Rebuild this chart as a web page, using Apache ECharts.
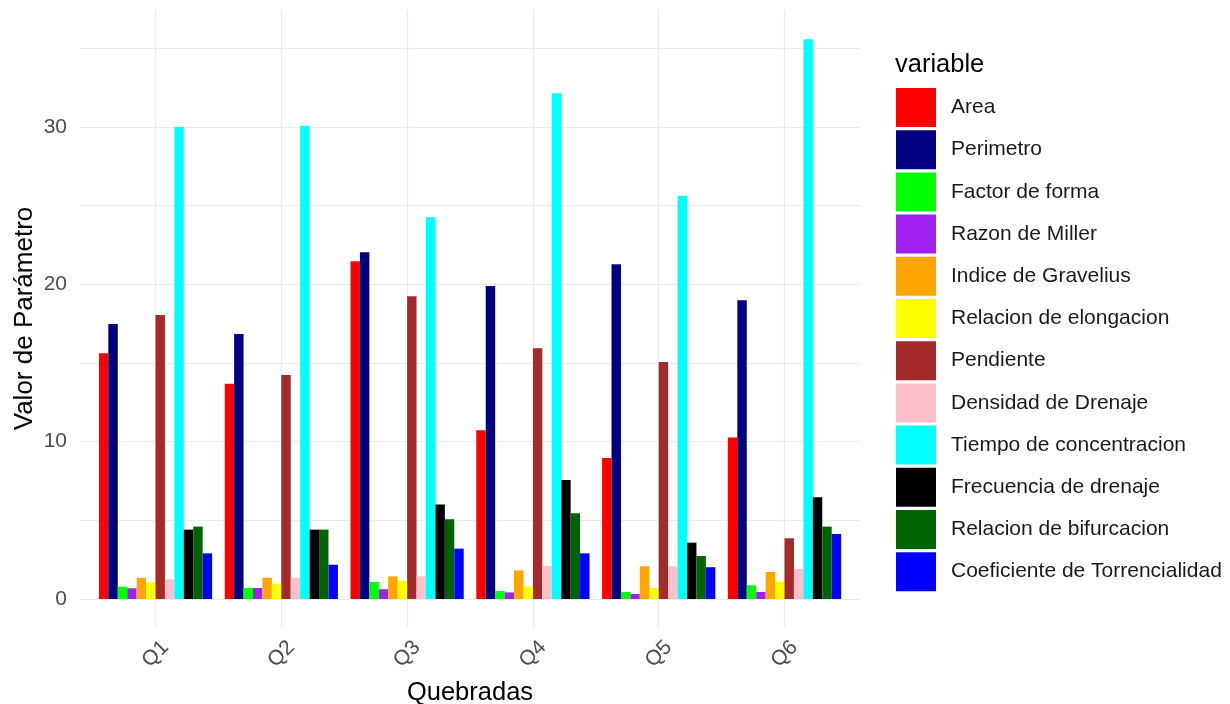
<!DOCTYPE html>
<html>
<head>
<meta charset="utf-8">
<script src="https://cdn.jsdelivr.net/npm/echarts@6/dist/echarts.min.js"></script>
<style>html,body{margin:0;padding:0;background:#fff}#c{width:1230px;height:704px}</style>
</head>
<body>
<div id="c"></div>
<script>
const categories = ['Q1','Q2','Q3','Q4','Q5','Q6'];
const yTickValues = [0, 10, 20, 30];
const yGridValues = [0, 5, 10, 15, 20, 25, 30, 35];

const area          = [15.62, 13.69, 21.47, 10.72, 8.96, 10.26];
const perimetro     = [17.48, 16.84, 22.04, 19.90, 21.28, 18.99];
const factorForma   = [0.78, 0.70, 1.08, 0.51, 0.45, 0.87];
const razonMiller   = [0.68, 0.70, 0.62, 0.42, 0.32, 0.45];
const gravelius     = [1.35, 1.35, 1.44, 1.82, 2.08, 1.72];
const elongacion    = [1.06, 0.97, 1.16, 0.78, 0.70, 1.10];
const pendiente     = [18.05, 14.24, 19.24, 15.94, 15.07, 3.86];
const densidad      = [1.25, 1.35, 1.44, 2.10, 2.08, 1.91];
const tiempo        = [30.00, 30.09, 24.27, 32.15, 25.64, 35.58];
const frecuencia    = [4.41, 4.41, 6.00, 7.57, 3.58, 6.47];
const bifurcacion   = [4.60, 4.41, 5.07, 5.45, 2.73, 4.60];
const torrencialidad= [2.90, 2.18, 3.20, 2.90, 2.02, 4.13];

const seriesNames = ['Area','Perimetro','Factor de forma','Razon de Miller','Indice de Gravelius',
  'Relacion de elongacion','Pendiente','Densidad de Drenaje','Tiempo de concentracion',
  'Frecuencia de drenaje','Relacion de bifurcacion','Coeficiente de Torrencialidad'];
const seriesData = [area, perimetro, factorForma, razonMiller, gravelius, elongacion,
  pendiente, densidad, tiempo, frecuencia, bifurcacion, torrencialidad];
const colors = ['#ff0000','#000080','#00ff00','#a020f0','#ffa500','#ffff00',
  '#a52a2a','#ffc0cb','#00ffff','#000000','#006400','#0000ff'];

const FONT = 'Liberation Sans, Arial, sans-serif';
const Y_MIN = -1.78, Y_MAX = 37.44;
const GRID_COLOR = '#ebebeb';
const chart = echarts.init(document.getElementById('c'));
chart.setOption({
  animation: false,
  backgroundColor: '#ffffff',
  color: colors,
  title: {
    text: 'variable', left: 895, top: 52, padding: 0,
    textStyle: { fontFamily: FONT, fontSize: 25.5, fontWeight: 'normal', color: '#000' }
  },
  legend: {
    orient: 'vertical', left: 896, top: 88, padding: 0,
    itemWidth: 40, itemHeight: 39, itemGap: 3.2,
    icon: 'rect',
    data: seriesNames,
    textStyle: { fontFamily: FONT, fontSize: 21, color: '#1a1a1a', padding: [0,0,0,10] }
  },
  grid: [
    { left: 80, right: 370, top: 10, bottom: 77, outerBoundsMode: 'none', containLabel: false },
    { left: 92.6, right: 382.6, top: 10, bottom: 77, outerBoundsMode: 'none', containLabel: false }
  ],
  xAxis: [
    { type: 'value', gridIndex: 0, show: false, min: 0, max: 1 },
    {
      type: 'category', gridIndex: 1, data: categories,
      name: 'Quebradas', nameLocation: 'middle', nameGap: 53, nameMoveOverlap: false,
      nameTextStyle: { fontFamily: FONT, fontSize: 25.5, color: '#000' },
      axisLine: { show: false },
      axisTick: { show: false, alignWithLabel: true },
      splitLine: { show: true, alignWithLabel: true, lineStyle: { color: GRID_COLOR, width: 1.2 } },
      axisLabel: { rotate: 45, align: 'center', verticalAlign: 'middle', margin: 27,
        fontFamily: FONT, fontSize: 21, color: '#4d4d4d' }
    }
  ],
  yAxis: [
    {
      type: 'value', gridIndex: 0, min: Y_MIN, max: Y_MAX,
      name: 'Valor de Parámetro', nameLocation: 'middle', nameGap: 42, nameRotate: 90,
      nameMoveOverlap: false,
      nameTextStyle: { fontFamily: FONT, fontSize: 26, color: '#000' },
      axisLine: { show: false },
      axisTick: { show: false, customValues: yGridValues },
      axisLabel: { customValues: yTickValues, margin: 13, fontFamily: FONT, fontSize: 21, color: '#4d4d4d' },
      splitLine: { show: true, lineStyle: { color: GRID_COLOR, width: 1.2 } }
    },
    {
      type: 'value', gridIndex: 1, min: Y_MIN, max: Y_MAX,
      axisLine: { show: false },
      axisTick: { show: false, customValues: yGridValues },
      axisLabel: { show: false, customValues: yTickValues },
      splitLine: { show: false }
    }
  ],
  series: seriesNames.map((n, i) => ({
    name: n, type: 'bar', data: seriesData[i],
    xAxisIndex: 1, yAxisIndex: 1,
    barGap: '0%', barCategoryGap: '10%',
    itemStyle: { color: colors[i] }
  }))
});
</script>
</body>
</html>
